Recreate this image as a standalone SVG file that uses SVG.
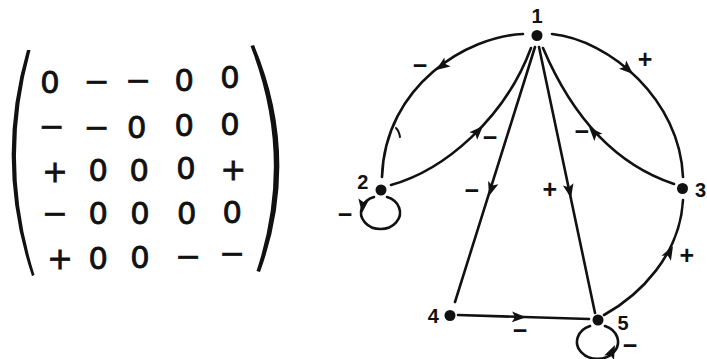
<svg xmlns="http://www.w3.org/2000/svg" xmlns:xlink="http://www.w3.org/1999/xlink" width="707" height="359" viewBox="0 0 707 359">
<style>
.m{font-family:"DejaVu Sans",sans-serif;font-size:30.5px;fill:#111;stroke:#111;stroke-width:0.8;text-anchor:middle}
.n{font-family:"Liberation Sans",Arial,sans-serif;font-weight:bold;font-size:20px;fill:#111;text-anchor:middle}
.s{font-family:"Liberation Sans",Arial,sans-serif;font-weight:bold;font-size:25px;fill:#111;text-anchor:middle}
.c{fill:none;stroke:#111;stroke-width:2.6;stroke-linecap:round}
.dot{fill:#111}
</style>
<defs>
<path id="ah" d="M0,0 L-14,-5.4 L-11,0 L-14,5.4 Z" fill="#111"/>
</defs>
<rect width="707" height="359" fill="#fff"/>
<g id="matrix">
<path d="M27,50 Q-6,163 32,276 L34.5,275 Q-0.5,163 30.5,50 Z" fill="#111"/>
<path d="M254,45 Q301.5,158 260,272 L256.5,271 Q294,158 250.5,46 Z" fill="#111"/>
<text class="m" x="50" y="92.7">0</text>
<text class="m" x="96.7" y="91.5">−</text>
<text class="m" x="138.3" y="90.5">−</text>
<text class="m" x="184.3" y="91">0</text>
<text class="m" x="230" y="88.3">0</text>
<text class="m" x="51.7" y="137.2">−</text>
<text class="m" x="96.7" y="137.8">−</text>
<text class="m" x="136.7" y="138.3">0</text>
<text class="m" x="184.3" y="136">0</text>
<text class="m" x="230" y="135">0</text>
<text class="m" x="55" y="182.2">+</text>
<text class="m" x="98.3" y="181">0</text>
<text class="m" x="139.3" y="181">0</text>
<text class="m" x="186" y="179.3">0</text>
<text class="m" x="233.3" y="179.8">+</text>
<text class="m" x="55" y="223.8">−</text>
<text class="m" x="98.3" y="224.3">0</text>
<text class="m" x="140" y="224.3">0</text>
<text class="m" x="186.7" y="223.7">0</text>
<text class="m" x="232.3" y="222.7">0</text>
<text class="m" x="60" y="268.8">+</text>
<text class="m" x="98.3" y="269.3">0</text>
<text class="m" x="140" y="268">0</text>
<text class="m" x="188.3" y="267.2">−</text>
<text class="m" x="232.3" y="263.8">−</text>
</g>
<g id="connectors">
<path class="c" d="M523,34 C468,36 385,85 382,177"/>
<path class="c" d="M396,128 Q399,131 400,137" style="stroke-width:2"/>
<path class="c" d="M552,34 C610,40 680,100 683,177"/>
<path class="c" d="M391,185 C445,170 505,118 531,48"/>
<path class="c" d="M674,184 C632,170 580,135 543,48"/>
<path class="c" d="M535,47 L455,302"/>
<path class="c" d="M539,47 L595,313"/>
<path class="c" d="M458,315 L589,319"/>
<path class="c" d="M604,315 C640,295 680,255 683,200"/>
<path class="c" d="M374,197 A19.5,16.5 0 1 0 387,197"/>
<path class="c" d="M590,326 A20.5,17 0 1 0 605,326"/>
<use xlink:href="#ah" transform="translate(436,70) rotate(145)"/>
<use xlink:href="#ah" transform="translate(483,126) rotate(-46)"/>
<use xlink:href="#ah" transform="translate(489,196) rotate(107.7)"/>
<use xlink:href="#ah" transform="translate(571,198) rotate(78.3)"/>
<use xlink:href="#ah" transform="translate(633,74) rotate(42)"/>
<use xlink:href="#ah" transform="translate(589,127) rotate(-132)"/>
<use xlink:href="#ah" transform="translate(673,246) rotate(-61)"/>
<use xlink:href="#ah" transform="translate(526,317.3) rotate(1.7)"/>
<use xlink:href="#ah" transform="translate(362,213) rotate(97)"/>
<use xlink:href="#ah" transform="translate(615,345) rotate(-65)"/>
<text class="s" x="420" y="73.7">−</text>
<text class="s" x="490" y="146">−</text>
<text class="s" x="471.7" y="199.4">−</text>
<text class="s" x="581.7" y="140">−</text>
<text class="s" x="520" y="339.4">−</text>
<text class="s" x="345" y="222.7">−</text>
<text class="s" x="630" y="353.7">−</text>
<text class="s" x="645" y="68">+</text>
<text class="s" x="549.7" y="197.7">+</text>
<text class="s" x="686.7" y="263.7">+</text>
</g>
<g id="node1"><circle class="dot" cx="537" cy="35.5" r="5.5"/><text class="n" x="537" y="23">1</text></g>
<g id="node2"><circle class="dot" cx="381" cy="190" r="5.5"/><text class="n" x="362.7" y="188.5">2</text></g>
<g id="node3"><circle class="dot" cx="682.5" cy="188.5" r="5.5"/><text class="n" x="700.5" y="196.5">3</text></g>
<g id="node4"><circle class="dot" cx="450" cy="315.5" r="5.5"/><text class="n" x="433.3" y="322.5">4</text></g>
<g id="node5"><circle class="dot" cx="598" cy="320" r="5.5"/><text class="n" x="623" y="330">5</text></g>
</svg>
